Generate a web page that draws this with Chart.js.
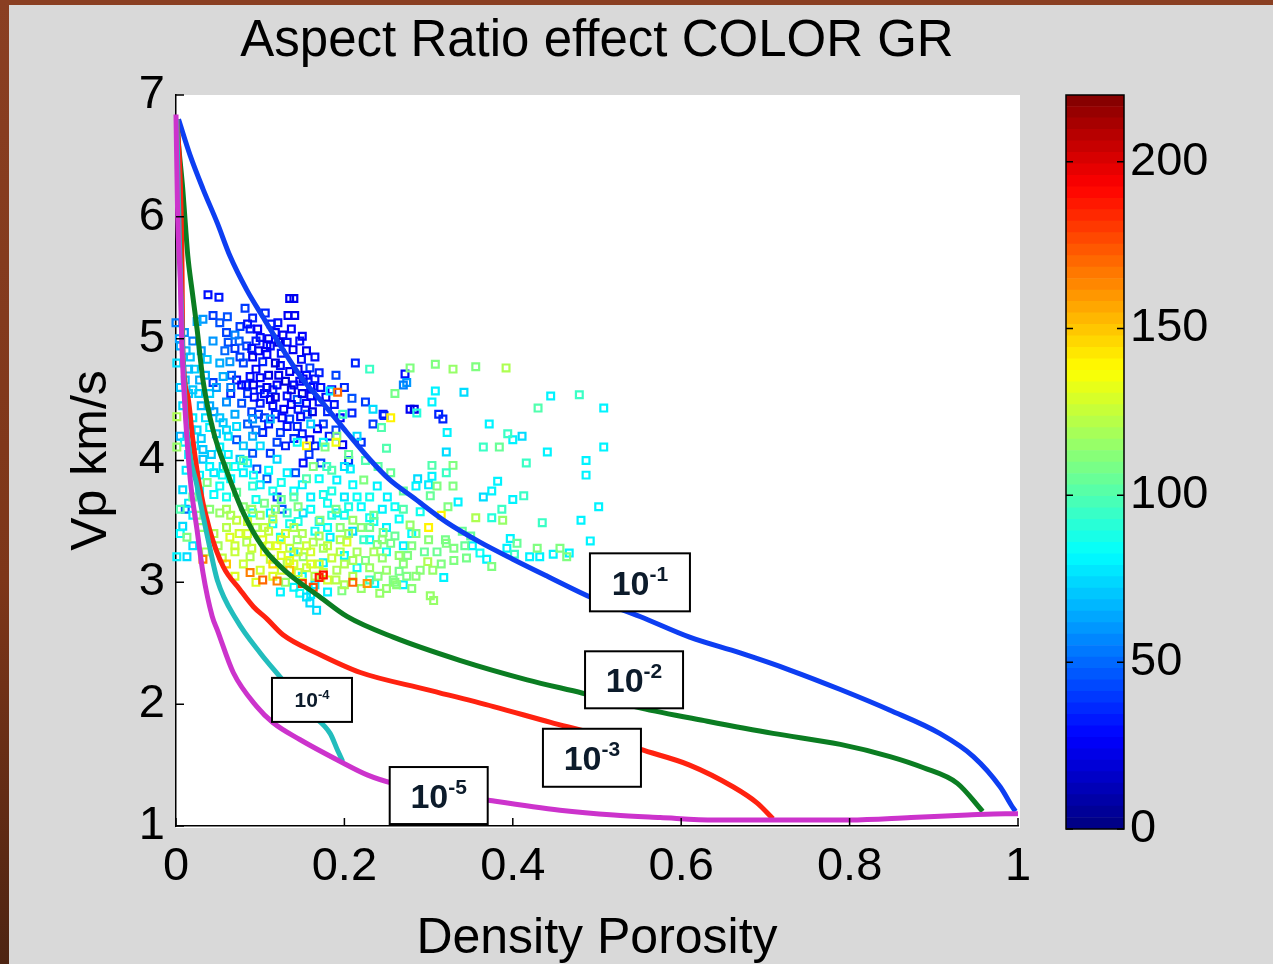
<!DOCTYPE html>
<html>
<head>
<meta charset="utf-8">
<title>Aspect Ratio effect COLOR GR</title>
<script src="https://cdn.jsdelivr.net/npm/chart.js@4.4.1/dist/chart.umd.min.js"></script>
<style>
  html, body { margin: 0; padding: 0; }
  body { width: 1273px; height: 964px; background: #d9d9d9; position: relative; overflow: hidden; }
  #frameTop { position: absolute; left: 0; top: 0; width: 1273px; height: 5px; background: #8a3f22; }
  #frameLeft { position: absolute; left: 0; top: 0; width: 9px; height: 964px;
               background: linear-gradient(#8a3f22, #7d3619 60%, #4e2412); }
  #mainChart { position: absolute; left: 0; top: 0; }
  #barChart { position: absolute; left: 1040px; top: 0; }
</style>
</head>
<body>
<div id="frameTop"></div>
<div id="frameLeft"></div>
<canvas id="mainChart" width="1050" height="964"></canvas>
<canvas id="barChart" width="233" height="964"></canvas>
<script>
// model curves, [density porosity, Vp km/s], one per aspect ratio
const curve10m1 = [[0.003,6.80],[0.017,6.50],[0.032,6.23],[0.049,5.95],[0.064,5.68],[0.084,5.40],[0.103,5.18],[0.127,4.91],[0.151,4.66],[0.171,4.50],[0.203,4.23],[0.230,4.01],[0.254,3.84],[0.281,3.70],[0.322,3.49],[0.361,3.33],[0.400,3.19],[0.441,3.05],[0.495,2.87],[0.551,2.72],[0.610,2.55],[0.670,2.42],[0.729,2.28],[0.789,2.12],[0.848,1.95],[0.907,1.76],[0.947,1.57],[0.979,1.32],[0.993,1.16],[0.997,1.12]];
const curve10m2 = [[0.001,6.80],[0.003,6.60],[0.008,6.23],[0.011,5.95],[0.014,5.68],[0.019,5.40],[0.025,5.08],[0.032,4.66],[0.044,4.25],[0.061,3.90],[0.080,3.57],[0.103,3.29],[0.132,3.08],[0.171,2.88],[0.203,2.72],[0.258,2.55],[0.337,2.36],[0.417,2.20],[0.483,2.09],[0.551,1.97],[0.631,1.86],[0.709,1.76],[0.789,1.67],[0.848,1.57],[0.887,1.48],[0.928,1.35],[0.958,1.12]];
const curve10m3 = [[0.001,6.80],[0.005,6.30],[0.007,5.68],[0.008,4.94],[0.014,4.53],[0.020,4.17],[0.028,3.79],[0.040,3.43],[0.056,3.13],[0.076,2.94],[0.092,2.80],[0.108,2.70],[0.127,2.57],[0.167,2.42],[0.219,2.26],[0.298,2.12],[0.377,1.98],[0.445,1.85],[0.500,1.75],[0.551,1.63],[0.610,1.50],[0.662,1.32],[0.690,1.19],[0.709,1.06]];
const curve10m4 = [[0.001,6.80],[0.004,5.80],[0.008,4.90],[0.013,4.25],[0.025,3.79],[0.040,3.29],[0.049,3.02],[0.072,2.69],[0.100,2.42],[0.124,2.22],[0.159,1.93],[0.183,1.76],[0.192,1.62],[0.198,1.53]];
const curve10m5 = [[0.000,6.84],[0.002,6.00],[0.005,5.49],[0.007,4.94],[0.011,4.39],[0.017,3.84],[0.025,3.43],[0.032,3.08],[0.043,2.72],[0.049,2.61],[0.068,2.26],[0.096,1.98],[0.115,1.85],[0.147,1.71],[0.195,1.53],[0.227,1.42],[0.258,1.35],[0.310,1.28],[0.373,1.21],[0.456,1.13],[0.520,1.09],[0.575,1.07],[0.640,1.05],[0.720,1.05],[0.800,1.05],[0.873,1.07],[0.940,1.09],[0.985,1.10],[1.000,1.10]];

// well log samples, [density porosity, Vp km/s, GR api]
const lowGR = [[0.038,5.36,30],[0.051,5.34,32],[0.135,5.33,25],[0.140,5.33,24],[0.121,5.13,30],[0.133,5.19,25],[0.141,5.19,25],[0.106,5.21,35],[0.082,5.25,40],[0.091,5.17,35],[0.044,5.19,40],[0.061,5.18,45],[0.076,5.10,40],[0.088,5.08,35],[0.100,5.01,30],[0.127,5.03,25],[0.062,4.97,45],[0.084,4.94,40],[0.112,4.94,30],[0.132,4.97,30],[0.139,4.91,25],[0.149,4.83,30],[0.159,4.76,40],[0.165,4.67,30],[0.151,4.67,25],[0.135,4.73,25],[0.124,4.78,30],[0.103,4.81,35],[0.091,4.85,25],[0.076,4.85,40],[0.072,4.66,30],[0.088,4.69,30],[0.100,4.58,35],[0.115,4.58,40],[0.132,4.53,30],[0.144,4.50,45],[0.163,4.61,35],[0.209,4.51,45],[0.213,4.80,35],[0.209,4.39,35],[0.246,4.38,30],[0.234,4.30,40],[0.156,4.38,45],[0.135,4.34,40],[0.103,4.23,35],[0.124,4.23,40],[0.144,4.28,35],[0.159,4.17,25],[0.198,4.13,25],[0.112,4.06,40],[0.091,4.06,45],[0.151,3.98,30],[0.096,3.93,45],[0.120,3.70,40],[0.072,4.17,45],[0.044,4.64,40],[0.052,5.13,45],
  [0.095,4.75,28],[0.110,4.70,22],[0.120,4.62,27],[0.140,4.62,30],[0.150,4.55,22],[0.115,4.45,30],[0.128,4.42,26],[0.100,4.47,33],[0.085,4.55,38],[0.170,4.48,30],[0.180,4.40,35],[0.155,4.47,28],[0.125,4.88,32],[0.108,4.87,28],[0.145,4.42,33],[0.175,4.30,40],[0.165,4.85,30],[0.118,5.05,28],[0.095,4.98,33],[0.080,4.80,42],[0.105,4.35,38],[0.130,4.12,33],[0.185,4.58,28],[0.190,4.25,42],
  [0.060,5.05,42],[0.070,4.92,38],[0.085,5.12,30],[0.097,5.08,27],[0.110,5.00,26],[0.122,4.97,22],[0.137,5.08,28],[0.147,4.98,30],[0.155,4.90,24],[0.160,4.60,28],[0.170,4.72,34],[0.178,4.52,26],[0.188,4.46,32],[0.195,4.35,28],[0.200,4.60,36],[0.083,4.62,36],[0.093,4.52,30],[0.108,4.60,24],[0.118,4.52,22],[0.137,4.46,26],[0.148,4.36,30],[0.162,4.40,22],[0.168,4.26,28],[0.182,4.20,34],[0.140,4.18,36],[0.120,4.15,42],[0.110,4.30,32],[0.090,4.40,40],[0.078,4.47,44],[0.066,4.70,48],[0.058,4.90,50],[0.075,4.98,46],[0.098,4.90,24],[0.118,4.80,20],[0.145,4.75,22],[0.155,4.70,30],[0.130,4.65,20],[0.100,4.68,28],[0.112,4.50,25],[0.126,4.35,28],[0.158,4.05,38],[0.172,3.98,42],[0.142,3.90,45],[0.108,3.85,48],[0.126,3.60,45],[0.095,4.25,48],[0.205,4.00,40],[0.220,4.15,38],[0.225,4.48,40],[0.190,4.70,42],
  [0.065,4.55,35],[0.078,4.62,28],[0.092,4.62,24],[0.105,4.55,30],[0.122,4.70,24],[0.137,4.58,22],[0.147,4.65,28],[0.160,4.53,26],[0.172,4.60,30],[0.118,4.38,34],[0.132,4.28,30],[0.150,4.22,32],[0.165,4.12,35],[0.098,4.38,40],[0.085,4.30,46],[0.108,4.95,26],[0.090,4.92,30],[0.150,5.02,28],[0.113,5.12,32],
  [0.272,4.71,30],[0.278,4.42,25],[0.283,4.42,22],[0.312,4.38,35],[0.317,4.34,35],[0.247,4.37,35]];
const midGR = [[0.032,5.16,60],[0.025,5.14,65],[0.000,5.13,55],[0.070,5.03,55],[0.044,4.98,60],[0.064,4.81,60],[0.052,4.80,65],[0.037,4.83,70],[0.017,4.85,70],[0.005,4.94,65],[0.001,4.80,75],[0.011,4.66,70],[0.028,4.66,65],[0.056,4.69,65],[0.183,4.57,80],[0.234,4.42,75],[0.112,4.34,65],[0.091,4.34,60],[0.072,4.28,75],[0.056,4.31,70],[0.040,4.27,80],[0.025,4.25,75],[0.032,4.09,70],[0.052,4.11,80],[0.091,4.20,65],[0.144,4.15,85],[0.175,4.15,80],[0.120,4.01,75],[0.076,4.01,70],[0.056,3.95,75],[0.032,4.01,70],[0.132,3.90,80],[0.191,3.84,80],[0.207,3.93,80],[0.239,3.79,80],[0.251,3.70,80],[0.052,3.79,85],[0.008,3.76,75],[0.011,3.60,50],[0.008,3.46,75],[0.001,3.21,80],[0.013,3.21,75],[0.091,3.57,85],[0.112,3.57,80],[0.151,3.57,75],[0.191,3.57,80],[0.230,3.53,85],[0.124,3.37,85],[0.183,3.37,80],[0.175,3.16,80],[0.215,3.12,85],[0.124,2.92,80],[0.147,2.91,85],[0.159,2.83,75],[0.167,2.77,75],[0.236,2.99,80],
  [0.010,5.05,60],[0.020,4.98,55],[0.030,4.90,62],[0.015,4.55,72],[0.030,4.45,68],[0.045,4.40,60],[0.060,4.48,58],[0.070,4.38,64],[0.020,4.35,78],[0.005,4.20,66],[0.040,4.55,72],[0.065,4.60,55],[0.080,4.12,70],[0.100,4.12,75],[0.015,4.05,80],[0.065,3.85,82],[0.045,3.90,78],[0.100,3.80,78],[0.140,3.75,82],[0.160,3.70,80],[0.180,3.65,85],[0.200,3.70,78],[0.220,3.62,82],[0.170,3.50,80],[0.210,3.42,75],[0.250,3.45,80],[0.270,3.30,80],[0.200,3.22,82],[0.140,3.25,78],[0.140,2.96,80],[0.160,2.90,78],
  [0.004,5.00,62],[0.012,4.90,68],[0.022,4.75,72],[0.035,4.70,66],[0.048,4.60,62],[0.008,4.45,74],[0.020,4.58,70],[0.035,4.35,76],[0.048,4.22,72],[0.062,4.20,78],[0.010,4.15,80],[0.022,4.12,76],[0.042,4.05,72],[0.062,4.05,80],[0.070,3.95,84],[0.085,3.98,78],[0.012,3.92,78],[0.028,3.88,80],[0.060,3.70,86],[0.045,3.72,82],[0.020,3.55,80],[0.005,3.40,82],[0.020,3.30,76],[0.110,3.92,82],[0.125,3.82,86],[0.150,3.80,80],[0.170,3.85,84],[0.185,3.75,88],[0.210,3.80,82],[0.230,3.70,86],[0.245,3.60,80],[0.265,3.52,84],[0.280,3.40,82],[0.290,3.58,86],[0.300,3.80,78],[0.200,3.95,76],[0.215,4.20,74],[0.160,4.30,72],[0.180,3.45,84],[0.200,3.55,86],[0.230,3.35,82],[0.250,3.25,86],[0.115,3.48,84],[0.135,3.48,86],[0.095,3.68,86],[0.150,3.05,80],[0.165,2.98,78],[0.180,2.92,80],[0.155,2.88,76],
  [0.015,4.75,68],[0.027,4.55,72],[0.040,4.45,64],[0.052,4.35,70],[0.060,4.25,74],[0.018,4.25,76],[0.030,4.18,72],[0.005,4.60,70],[0.040,3.95,80],[0.028,3.75,82],[0.015,3.65,78],[0.055,3.88,84],[0.080,3.90,80],[0.092,3.88,84],[0.115,3.75,86],[0.160,3.60,84],[0.175,3.72,86],[0.215,3.70,84],[0.235,3.50,86],[0.260,3.62,84],[0.145,3.50,88],[0.165,3.42,86],[0.185,3.55,90],[0.205,3.62,88],
  [0.274,4.64,60],[0.270,4.62,55],[0.308,4.57,80],[0.342,4.56,75],[0.304,4.48,80],[0.445,4.53,80],[0.508,4.43,80],[0.372,4.30,80],[0.400,4.17,80],[0.411,4.20,75],[0.441,4.07,80],[0.508,4.11,80],[0.487,4.00,80],[0.487,3.88,80],[0.322,4.23,80],[0.321,4.07,75],[0.304,3.87,80],[0.287,3.85,75],[0.285,3.79,80],[0.382,3.83,80],[0.375,3.75,80],[0.365,3.70,75],[0.400,3.68,80],[0.335,3.66,80],[0.481,3.51,80],[0.502,3.62,80],[0.492,3.34,80],[0.397,3.36,80],[0.352,3.30,80],[0.448,3.23,80],[0.467,3.24,80],[0.420,3.21,80],[0.432,3.21,80],[0.393,3.28,80],[0.361,3.24,85],[0.369,3.19,80],[0.318,3.04,80],[0.270,2.98,80]];
const highGR = [[0.230,4.75,95],[0.198,4.38,95],[0.244,4.27,100],[0.191,4.20,110],[0.177,4.11,110],[0.001,4.36,120],[0.001,4.11,115],[0.163,3.95,110],[0.179,3.95,95],[0.223,3.84,110],[0.091,3.79,90],[0.072,3.74,105],[0.037,3.82,110],[0.013,3.37,110],[0.052,3.57,115],[0.072,3.51,125],[0.132,3.57,95],[0.171,3.51,110],[0.210,3.51,115],[0.246,3.41,110],[0.064,3.37,130],[0.084,3.33,120],[0.103,3.35,130],[0.144,3.35,115],[0.163,3.33,120],[0.203,3.33,130],[0.223,3.35,95],[0.239,3.31,110],[0.088,3.21,120],[0.112,3.19,125],[0.132,3.16,120],[0.151,3.21,115],[0.191,3.10,120],[0.230,3.02,95],[0.130,3.00,115],[0.197,2.93,110],[0.242,2.91,115],
  [0.060,3.45,122],[0.075,3.40,128],[0.095,3.45,118],[0.110,3.42,125],[0.120,3.30,132],[0.135,3.28,125],[0.150,3.40,120],[0.160,3.25,128],[0.175,3.28,118],[0.185,3.20,125],[0.195,3.45,112],[0.215,3.25,118],[0.225,3.18,110],[0.245,3.20,115],[0.260,3.38,105],[0.270,3.15,112],[0.285,3.40,110],[0.295,3.25,105],[0.305,3.10,115],[0.320,3.35,108],[0.100,3.10,128],[0.115,3.05,130],[0.145,3.08,125],[0.165,3.05,122],[0.180,3.02,128],[0.210,3.05,120],[0.260,3.00,110],[0.080,3.62,112],[0.105,3.65,108],[0.125,3.68,105],[0.145,3.62,110],[0.070,3.25,125],[0.050,3.30,118],[0.040,3.60,112],[0.030,3.45,115],[0.020,3.70,105],[0.155,3.85,100],[0.205,4.05,105],[0.225,4.00,100],[0.255,3.90,105],[0.270,3.60,100],
  [0.065,3.55,120],[0.085,3.50,126],[0.100,3.55,118],[0.115,3.52,122],[0.130,3.40,128],[0.140,3.45,120],[0.155,3.30,126],[0.170,3.38,118],[0.180,3.30,124],[0.195,3.25,122],[0.205,3.40,116],[0.220,3.45,112],[0.235,3.25,118],[0.250,3.10,115],[0.255,3.32,108],[0.275,3.22,110],[0.290,3.10,112],[0.310,3.25,106],[0.330,3.18,110],[0.340,3.42,105],[0.090,3.28,126],[0.105,3.25,132],[0.125,3.22,130],[0.140,3.15,128],[0.155,3.12,124],[0.170,3.15,126],[0.190,3.02,122],[0.200,3.15,120],[0.125,3.10,128],[0.080,3.15,126],[0.095,3.00,130],[0.240,3.05,112],[0.220,2.95,115],[0.280,2.95,112],[0.045,3.40,120],[0.055,3.20,124],[0.070,3.05,130],[0.035,3.25,118],[0.025,3.55,110],[0.190,3.60,108],[0.235,3.55,106],[0.270,3.75,104],[0.250,4.10,100],[0.260,4.55,108],[0.240,3.95,102],[0.185,3.92,100],[0.140,3.70,102],[0.060,3.95,98],[0.080,4.00,100],[0.005,3.60,100],
  [0.110,3.30,128],[0.125,3.35,130],[0.145,3.25,126],[0.160,3.15,130],[0.175,3.08,126],[0.195,3.35,120],[0.210,3.18,118],[0.230,3.12,116],[0.245,3.35,112],[0.265,3.22,114],[0.280,3.30,110],[0.300,3.35,112],[0.315,3.15,110],[0.285,3.05,112],[0.105,3.45,124],[0.085,3.40,128],[0.070,3.30,126],[0.060,3.60,118],[0.090,3.60,116],[0.118,3.60,114],[0.135,3.18,132],[0.150,3.00,128],[0.200,2.98,120],[0.250,2.95,114],[0.230,3.45,108],[0.330,3.28,110],[0.345,3.20,108],[0.350,3.38,104],
  [0.308,4.79,110],[0.278,4.76,110],[0.329,4.75,115],[0.356,4.77,110],[0.392,4.76,120],[0.286,4.39,90],[0.479,4.54,95],[0.430,4.43,100],[0.394,4.22,95],[0.365,4.11,95],[0.384,4.11,105],[0.416,3.98,95],[0.304,3.96,100],[0.329,3.96,110],[0.321,3.90,95],[0.329,3.79,110],[0.310,3.79,110],[0.302,3.71,105],[0.413,3.71,95],[0.387,3.60,95],[0.375,3.53,90],[0.388,3.51,115],[0.356,3.53,120],[0.323,3.62,110],[0.435,3.49,95],[0.343,3.30,105],[0.429,3.28,110],[0.456,3.28,110],[0.464,3.21,110],[0.402,3.23,95],[0.375,3.13,110],[0.302,2.89,115],[0.306,2.85,115],[0.258,3.02,110],[0.262,2.98,112],[0.274,3.05,110],[0.265,3.09,108],[0.278,3.47,115],[0.321,3.32,110],[0.299,3.17,120],[0.405,3.32,105]];
const hotGR = [[0.192,4.56,170],[0.032,3.19,165],[0.088,3.08,165],[0.103,3.02,170],[0.120,3.01,165],[0.163,2.96,175],[0.175,3.06,190],[0.170,3.04,185],[0.210,3.00,170],[0.227,2.99,160],[0.135,3.10,150],[0.150,2.99,180],[0.060,3.15,150],[0.115,3.15,145],[0.255,4.35,140],[0.315,3.55,140],[0.155,4.12,140],[0.300,3.45,140],[0.190,4.15,135]];

// x and y ticks, colour bar range
const phiTicks = [0, 0.2, 0.4, 0.6, 0.8, 1];
const vpTicks = [1, 2, 3, 4, 5, 6, 7];
const grMax = 220;
const grTicks = [0, 50, 100, 150, 200];

// aspect ratio labels: exponent, anchor (porosity, Vp) and box size
const curveLabels = [
  { exp: '-1', phi: 0.551, vp: 3.00, w: 100, h: 58, size: 34 },
  { exp: '-2', phi: 0.544, vp: 2.20, w: 98, h: 57, size: 34 },
  { exp: '-3', phi: 0.494, vp: 1.56, w: 98, h: 58, size: 34 },
  { exp: '-4', phi: 0.1615, vp: 2.035, w: 80, h: 44, size: 21 },
  { exp: '-5', phi: 0.312, vp: 1.25, w: 98, h: 57, size: 34 }
];

const FONT = '"Liberation Sans", Arial, Helvetica, sans-serif';

function clamp01(v) { return Math.min(1, Math.max(0, v)); }
// matlab jet colour for a GR value
function jet(gr) {
  const t = clamp01(gr / grMax);
  const r = clamp01(1.5 - Math.abs(4 * t - 3));
  const g = clamp01(1.5 - Math.abs(4 * t - 2));
  const b = clamp01(1.5 - Math.abs(4 * t - 1));
  return 'rgb(' + Math.round(r * 255) + ',' + Math.round(g * 255) + ',' + Math.round(b * 255) + ')';
}

const samples = [].concat(lowGR, midGR, highGR, hotGR);

function curveSet(points, color) {
  return {
    data: points.map(p => ({ x: p[0], y: p[1] })),
    showLine: true,
    borderColor: color,
    borderWidth: 5,
    pointRadius: 0,
    cubicInterpolationMode: 'monotone',
    clip: 8
  };
}

// white plot area
const plotBackground = {
  id: 'plotBackground',
  beforeDraw(chart) {
    const a = chart.chartArea, ctx = chart.ctx;
    ctx.save();
    ctx.fillStyle = '#ffffff';
    ctx.fillRect(a.left, a.top, a.right - a.left + 2, a.bottom - a.top + 2);
    ctx.restore();
  }
};

// matlab style ticks pointing into the axes
const inwardTicks = {
  id: 'inwardTicks',
  afterDraw(chart) {
    const ctx = chart.ctx, a = chart.chartArea;
    const sx = chart.scales.x, sy = chart.scales.y;
    ctx.save();
    ctx.strokeStyle = '#000';
    ctx.lineWidth = 1.5;
    ctx.beginPath();
    phiTicks.forEach(v => {
      const px = sx.getPixelForValue(v);
      ctx.moveTo(px, a.bottom);
      ctx.lineTo(px, a.bottom - 8);
    });
    vpTicks.forEach(v => {
      const py = sy.getPixelForValue(v);
      ctx.moveTo(a.left, py);
      ctx.lineTo(a.left + 8, py);
    });
    ctx.stroke();
    ctx.restore();
  }
};

// boxed 10^n labels on the curves
const ratioLabels = {
  id: 'ratioLabels',
  afterDatasetsDraw(chart) {
    const ctx = chart.ctx;
    const sx = chart.scales.x, sy = chart.scales.y;
    ctx.save();
    curveLabels.forEach(l => {
      const cx = sx.getPixelForValue(l.phi);
      const cy = sy.getPixelForValue(l.vp);
      ctx.fillStyle = '#ffffff';
      ctx.fillRect(cx - l.w / 2, cy - l.h / 2, l.w, l.h);
      ctx.strokeStyle = '#000';
      ctx.lineWidth = 2;
      ctx.strokeRect(cx - l.w / 2, cy - l.h / 2, l.w, l.h);
      const supSize = Math.round(l.size * 0.62);
      ctx.font = 'bold ' + l.size + 'px ' + FONT;
      const baseW = ctx.measureText('10').width;
      ctx.font = 'bold ' + supSize + 'px ' + FONT;
      const supW = ctx.measureText(l.exp).width;
      const x0 = cx - (baseW + supW) / 2;
      const base = cy + l.size * 0.36;
      ctx.fillStyle = '#0c1b2b';
      ctx.textBaseline = 'alphabetic';
      ctx.textAlign = 'left';
      ctx.font = 'bold ' + l.size + 'px ' + FONT;
      ctx.fillText('10', x0, base);
      ctx.font = 'bold ' + supSize + 'px ' + FONT;
      ctx.fillText(l.exp, x0 + baseW, base - l.size * 0.4);
    });
    ctx.restore();
  }
};

new Chart(document.getElementById('mainChart').getContext('2d'), {
  type: 'scatter',
  data: {
    datasets: [
      curveSet(curve10m5, '#cc33cc'),
      curveSet(curve10m4, '#22bdbd'),
      curveSet(curve10m3, '#ff2210'),
      curveSet(curve10m2, '#0b7d22'),
      curveSet(curve10m1, '#0d3ef2'),
      {
        data: samples.map(s => ({ x: s[0], y: s[1] })),
        pointStyle: 'rect',
        pointRadius: 4.8,
        pointBorderWidth: 2.2,
        pointBackgroundColor: 'rgba(255,255,255,0)',
        pointBorderColor: samples.map(s => jet(s[2])),
        showLine: false,
        clip: 6
      }
    ]
  },
  options: {
    responsive: false,
    animation: false,
    events: [],
    layout: { padding: { left: 0, right: 32, top: 0, bottom: 0 } },
    plugins: {
      legend: { display: false },
      tooltip: { enabled: false },
      title: {
        display: true,
        fullSize: false,
        text: 'Aspect Ratio effect COLOR GR',
        color: '#000',
        font: { family: FONT, size: 51, weight: 'normal', lineHeight: 1 },
        padding: { top: 16, bottom: 28 }
      }
    },
    scales: {
      x: {
        type: 'linear',
        min: 0,
        max: 1,
        afterBuildTicks: s => { s.ticks = phiTicks.map(v => ({ value: v })); },
        ticks: {
          color: '#000',
          padding: 13,
          font: { family: FONT, size: 47 },
          callback: v => String(+v.toFixed(1))
        },
        grid: { display: false, drawTicks: false },
        border: { display: true, color: '#000', width: 1.5 },
        title: {
          display: true,
          text: 'Density Porosity',
          color: '#000',
          font: { family: FONT, size: 50, lineHeight: 1 },
          padding: { top: 4, bottom: 0 }
        },
        afterFit: s => { s.height = 138; }
      },
      y: {
        type: 'linear',
        min: 1,
        max: 7,
        afterBuildTicks: s => { s.ticks = vpTicks.map(v => ({ value: v })); },
        ticks: {
          color: '#000',
          padding: 11,
          font: { family: FONT, size: 47 }
        },
        grid: { display: false, drawTicks: false },
        border: { display: true, color: '#000', width: 1.5 },
        title: {
          display: true,
          text: 'Vp km/s',
          color: '#000',
          font: { family: FONT, size: 50, lineHeight: 1 },
          padding: { top: 67, bottom: 0 }
        },
        afterFit: s => { s.width = 176; }
      }
    }
  },
  plugins: [plotBackground, inwardTicks, ratioLabels]
});

// colour bar: one stacked bar cut into jet colour bands
const colorBands = 64;
const bandSets = [];
for (let i = 0; i < colorBands; i++) {
  bandSets.push({
    data: [grMax / colorBands],
    backgroundColor: jet((i + 0.5) * grMax / colorBands),
    borderWidth: 0,
    barPercentage: 1,
    categoryPercentage: 1
  });
}

const colorbarFrame = {
  id: 'colorbarFrame',
  afterDraw(chart) {
    const ctx = chart.ctx, a = chart.chartArea, sy = chart.scales.y;
    ctx.save();
    ctx.strokeStyle = '#000';
    ctx.lineWidth = 1.5;
    ctx.strokeRect(a.left, a.top, a.right - a.left, a.bottom - a.top);
    ctx.beginPath();
    grTicks.forEach(v => {
      const py = sy.getPixelForValue(v);
      ctx.moveTo(a.left, py);
      ctx.lineTo(a.left + 7, py);
      ctx.moveTo(a.right, py);
      ctx.lineTo(a.right - 7, py);
    });
    ctx.stroke();
    ctx.restore();
  }
};

new Chart(document.getElementById('barChart').getContext('2d'), {
  type: 'bar',
  data: { labels: ['GR'], datasets: bandSets },
  options: {
    responsive: false,
    animation: false,
    events: [],
    layout: { padding: { left: 26, right: 0, top: 95, bottom: 135 } },
    plugins: { legend: { display: false }, tooltip: { enabled: false } },
    scales: {
      x: { display: false, stacked: true },
      y: {
        stacked: true,
        position: 'right',
        min: 0,
        max: grMax,
        afterBuildTicks: s => { s.ticks = grTicks.map(v => ({ value: v })); },
        ticks: { color: '#000', padding: 6, font: { family: FONT, size: 47 } },
        grid: { display: false, drawTicks: false },
        border: { display: false },
        afterFit: s => { s.width = 149; }
      }
    }
  },
  plugins: [colorbarFrame]
});
</script>
</body>
</html>
